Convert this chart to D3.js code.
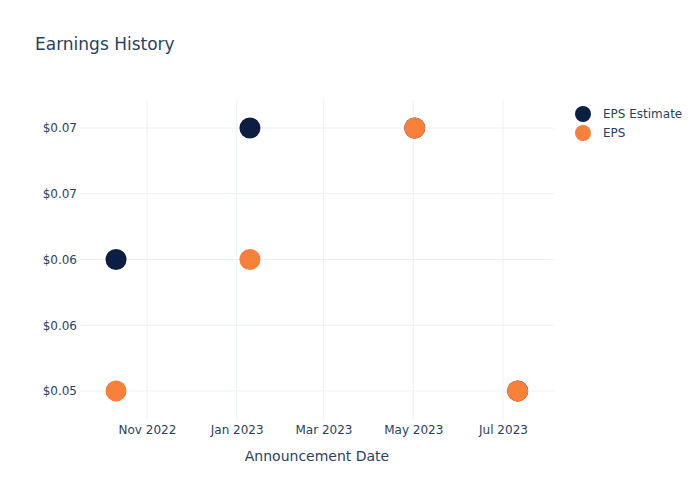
<!DOCTYPE html>
<html>
<head>
<meta charset="utf-8">
<script src="https://cdn.jsdelivr.net/npm/d3@7"></script>
<style>
  body { margin: 0; background: #fff; }
  svg { font-family: "DejaVu Sans", Verdana, sans-serif; }
</style>
</head>
<body>
<svg id="chart" width="700" height="500"></svg>
<script>
const dates = ["2022-10-11", "2023-01-10", "2023-05-02", "2023-07-11"];
const epsEstimate = [0.06, 0.07, 0.07, 0.05];
const eps = [0.05, 0.06, 0.07, 0.05];
const yTicks = [0.05, 0.055, 0.06, 0.065, 0.07];
const yTickLabels = ["$0.05", "$0.06", "$0.06", "$0.07", "$0.07"];
const xTicks = ["2022-11-01", "2023-01-01", "2023-03-01", "2023-05-01", "2023-07-01"];
const seriesNames = ["EPS Estimate", "EPS"];
const seriesColors = ["#0b1f42", "#f7803a"];

const parse = d3.utcParse("%Y-%m-%d");
const svg = d3.select("#chart");
const W = 700, H = 500;
const m = { l: 80, r: 146, t: 100, b: 80 };

const x = d3.scaleUtc()
  .domain([Date.UTC(2022, 8, 16, 12), Date.UTC(2023, 7, 4, 16)])
  .range([m.l, W - m.r]);
const y = d3.scaleLinear()
  .domain([0.04779, 0.07213])
  .range([H - m.b, m.t]);

svg.append("rect").attr("width", W).attr("height", H).attr("fill", "#fff");

// grid
const grid = svg.append("g");
grid.selectAll("line.v").data(xTicks).enter().append("line")
  .attr("x1", d => x(parse(d))).attr("x2", d => x(parse(d)))
  .attr("y1", m.t).attr("y2", H - m.b)
  .attr("stroke", "#ebf0f8").attr("stroke-width", 1);
grid.selectAll("line.h").data(yTicks).enter().append("line")
  .attr("x1", m.l).attr("x2", W - m.r)
  .attr("y1", d => y(d)).attr("y2", d => y(d))
  .attr("stroke", "#ebf0f8").attr("stroke-width", 1);

// x axis
const xAxis = d3.axisBottom(x)
  .tickValues(xTicks.map(parse))
  .tickFormat(d3.utcFormat("%b %Y"))
  .tickSize(0).tickPadding(5);
const gx = svg.append("g").attr("transform", `translate(0,${H - m.b})`).call(xAxis);
gx.select(".domain").remove();
gx.selectAll("text").attr("fill", "#2a3f5f").attr("font-size", 12)
  .attr("font-family", '"DejaVu Sans", Verdana, sans-serif');

// y axis
const yAxis = d3.axisLeft(y)
  .tickValues(yTicks)
  .tickFormat((d, i) => yTickLabels[i])
  .tickSize(0).tickPadding(3);
const gy = svg.append("g").attr("transform", `translate(${m.l},0)`).call(yAxis);
gy.select(".domain").remove();
gy.selectAll("text").attr("fill", "#2a3f5f").attr("font-size", 12)
  .attr("font-family", '"DejaVu Sans", Verdana, sans-serif');

// points
const series = [epsEstimate, eps];
series.forEach((vals, si) => {
  svg.append("g").selectAll("circle").data(vals).enter().append("circle")
    .attr("cx", (d, i) => x(parse(dates[i])))
    .attr("cy", d => y(d))
    .attr("r", 10.5)
    .attr("fill", seriesColors[si]);
});

// title
svg.append("text").attr("x", 35).attr("y", 50)
  .attr("fill", "#2a3f5f").attr("font-size", 17)
  .text("Earnings History");

// x axis title
svg.append("text").attr("x", (m.l + W - m.r) / 2).attr("y", 461)
  .attr("text-anchor", "middle")
  .attr("fill", "#2a3f5f").attr("font-size", 14)
  .text("Announcement Date");

// legend
const lg = svg.append("g");
seriesNames.forEach((name, i) => {
  const ly = 114 + i * 19;
  lg.append("circle").attr("cx", 583).attr("cy", ly).attr("r", 8)
    .attr("fill", seriesColors[i]);
  lg.append("text").attr("x", 603).attr("y", ly + 4)
    .attr("fill", "#2a3f5f").attr("font-size", 12)
    .text(name);
});
</script>
</body>
</html>
